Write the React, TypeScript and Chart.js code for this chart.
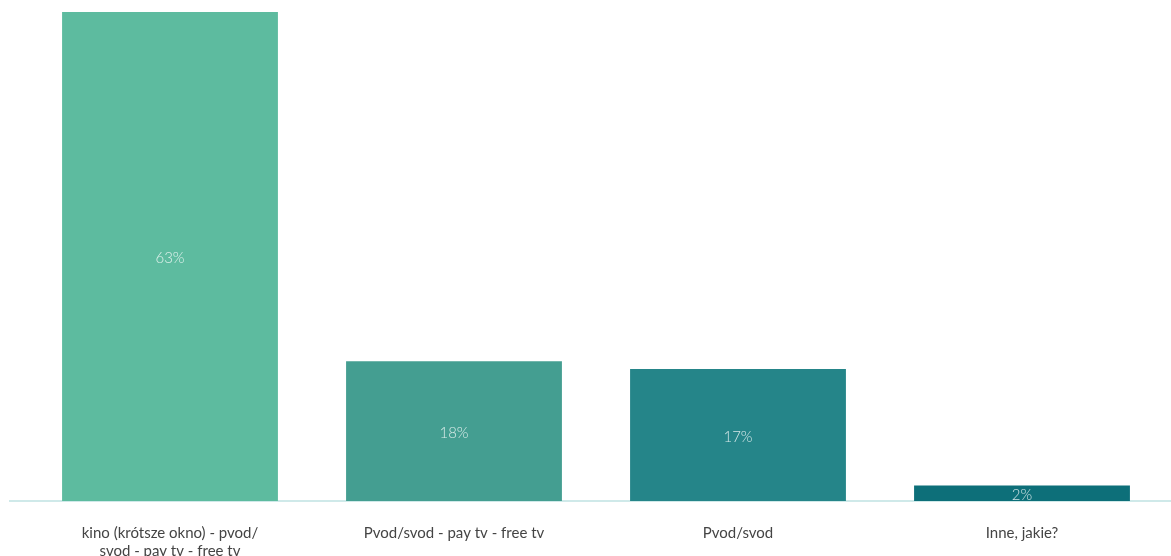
import React, { useEffect, useRef } from "react";
import { Chart, registerables } from "chart.js";

Chart.register(...registerables);

const categories: (string | string[])[] = [
  ["kino (krótsze okno) - pvod/", "svod - pay tv - free tv"],
  "Pvod/svod - pay tv - free tv",
  "Pvod/svod",
  "Inne, jakie?",
];
const values: number[] = [63, 18, 17, 2];
const barColors: string[] = ["#5dbb9f", "#449e91", "#258589", "#0d6f79"];
const valueLabels: string[] = ["63%", "18%", "17%", "2%"];

const FONT = "Lato, 'Open Sans', sans-serif";

const dataLabelPlugin = {
  id: "dataLabels",
  afterDatasetsDraw(chart: any) {
    const ctx = chart.ctx;
    const meta = chart.getDatasetMeta(0);
    ctx.save();
    ctx.font = `300 15px ${FONT}`;
    ctx.fillStyle = "rgba(255,255,255,0.8)";
    ctx.textAlign = "center";
    ctx.textBaseline = "middle";
    meta.data.forEach((el: any, i: number) => {
      const y = (el.y + el.base) / 2 + 2;
      ctx.fillText(valueLabels[i], el.x, y);
    });
    ctx.restore();
  },
};

const baselinePlugin = {
  id: "baseline",
  beforeDatasetsDraw(chart: any) {
    const ctx = chart.ctx;
    const y = chart.scales.y.getPixelForValue(0);
    ctx.save();
    ctx.strokeStyle = "#bfe2e2";
    ctx.lineWidth = 1.5;
    ctx.beginPath();
    ctx.moveTo(9, y);
    ctx.lineTo(chart.width, y);
    ctx.stroke();
    ctx.restore();
  },
};

export default function App() {
  const ref = useRef<HTMLCanvasElement | null>(null);
  useEffect(() => {
    document.body.style.margin = "0";
    const c = new Chart(ref.current!, {
      type: "bar",
      data: {
        labels: categories,
        datasets: [
          {
            data: values,
            backgroundColor: barColors,
            categoryPercentage: 1,
            barPercentage: 0.76,
          },
        ],
      },
      options: {
        animation: false,
        responsive: false,
        layout: { padding: { top: 12, left: 28, right: 7, bottom: 0 } },
        plugins: { legend: { display: false }, tooltip: { enabled: false } },
        scales: {
          x: {
            grid: { display: false, drawTicks: false },
            border: { display: false },
            afterFit(scale: any) {
              scale.height = 55;
            },
            ticks: {
              padding: 23,
              color: "#444444",
              font: { family: FONT, size: 15 },
              maxRotation: 0,
              autoSkip: false,
            },
          },
          y: {
            display: false,
            min: 0,
            max: 63,
          },
        },
      },
      plugins: [baselinePlugin, dataLabelPlugin],
    });
    return () => c.destroy();
  }, []);
  return (
    <div style={{ width: 1171, height: 556 }}>
      <canvas ref={ref} width={1171} height={556} style={{ display: "block" }} />
    </div>
  );
}
